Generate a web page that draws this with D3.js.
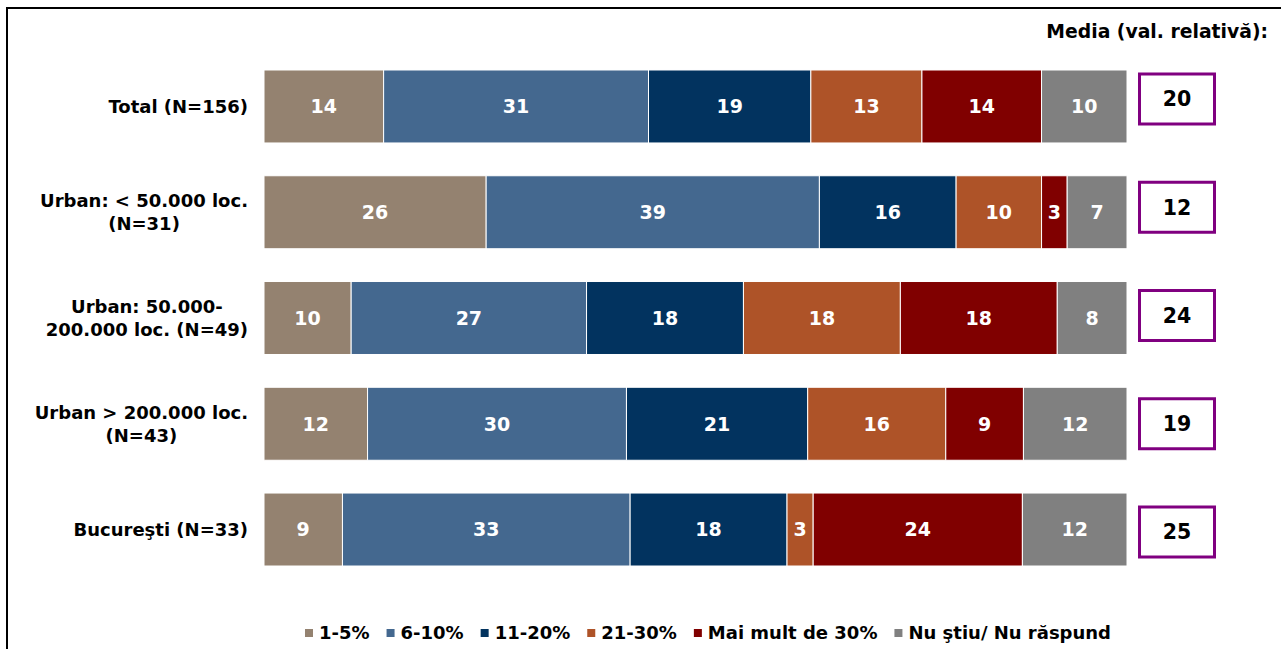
<!DOCTYPE html>
<html>
<head>
<meta charset="utf-8">
<script src="https://d3js.org/d3.v7.min.js"></script>
<style>
  body { margin: 0; background: #fff; }
  svg text { font-family: "DejaVu Sans", Verdana, sans-serif; font-weight: bold; }
</style>
</head>
<body>
<svg id="chart" width="1281" height="649"></svg>
<script>
// categories (each label may have two lines)
let categories = [
  ["Total (N=156)"],
  ["Urban: < 50.000 loc.", "(N=31)"],
  ["Urban: 50.000-", "200.000 loc. (N=49)"],
  ["Urban > 200.000 loc.", "(N=43)"],
  ["Bucureşti (N=33)"]
];

let seriesNames = ["1-5%", "6-10%", "11-20%", "21-30%", "Mai mult de 30%", "Nu ştiu/ Nu răspund"];
let seriesColors = ["#948270", "#44688F", "#02335F", "#AE5328", "#800000", "#808080"];

// values per series, one per category
let s1to5 = [14, 26, 10, 12, 9];
let s6to10 = [31, 39, 27, 30, 33];
let s11to20 = [19, 16, 18, 21, 18];
let s21to30 = [13, 10, 18, 16, 3];
let sOver30 = [14, 3, 18, 9, 24];
let sDontKnow = [10, 7, 8, 12, 12];

// mean (relative value) per category
let means = [20, 12, 24, 19, 25];

let titleText = "Media (val. relativă):";

// build rows for the stack
let seriesValues = [s1to5, s6to10, s11to20, s21to30, sOver30, sDontKnow];
let rows = categories.map(function(c, i) {
  let row = { id: i };
  seriesNames.forEach(function(s, j) {
    row[s] = seriesValues[j][i];
  });
  return row;
});

let svg = d3.select("#chart");

// frame
svg
  .append("rect")
  .attr("x", 7)
  .attr("y", 8)
  .attr("width", 1400)
  .attr("height", 800)
  .attr("fill", "none")
  .attr("stroke", "#000")
  .attr("stroke-width", 2);

let stack = d3
  .stack()
  .keys(seriesNames)
  .offset(d3.stackOffsetExpand);
let stacked = stack(rows);

let xScale = d3
  .scaleLinear()
  .domain([0, 1])
  .range([264, 1127]);

let yScale = d3
  .scaleBand()
  .domain(d3.range(categories.length))
  .range([53.6, 582.4])
  .paddingInner(0.31)
  .paddingOuter(0.155);

let colorScale = d3
  .scaleOrdinal()
  .domain(seriesNames)
  .range(seriesColors);

// bars
let layers = svg
  .append("g")
  .selectAll("g")
  .data(stacked)
  .join("g")
  .attr("fill", d => colorScale(d.key));

layers
  .selectAll("rect")
  .data(d => d)
  .join("rect")
  .attr("x", d => xScale(d[0]))
  .attr("y", d => yScale(d.data.id))
  .attr("width", d => xScale(d[1]) - xScale(d[0]))
  .attr("height", yScale.bandwidth())
  .attr("stroke", "#fff")
  .attr("stroke-width", 1);

// value labels
layers
  .selectAll("text")
  .data(function(d) {
    return d.map(p => ({ p: p, key: d.key }));
  })
  .join("text")
  .attr("x", d => (xScale(d.p[0]) + xScale(d.p[1])) / 2)
  .attr("y", d => yScale(d.p.data.id) + yScale.bandwidth() / 2)
  .attr("dy", "0.36em")
  .attr("text-anchor", "middle")
  .attr("fill", "#fff")
  .style("font-size", "19px")
  .text(d => d.p.data[d.key]);

// category labels: block right-aligned, lines centred inside it
let labelRight = 248;
let lineHeight = 23;
categories.forEach(function(lines, i) {
  let g = svg.append("g");
  let texts = lines.map(function(line, k) {
    return g
      .append("text")
      .attr("y", yScale(i) + yScale.bandwidth() / 2 + (k - (lines.length - 1) / 2) * lineHeight)
      .attr("dy", "0.36em")
      .attr("text-anchor", "middle")
      .attr("fill", "#000")
      .style("font-size", "18px")
      .text(line);
  });
  let maxW = d3.max(texts, t => t.node().getComputedTextLength());
  texts.forEach(t => t.attr("x", labelRight - maxW / 2));
});

// mean title
svg
  .append("text")
  .attr("x", 1268)
  .attr("y", 31)
  .attr("dy", "0.36em")
  .attr("text-anchor", "end")
  .attr("fill", "#000")
  .style("font-size", "18.8px")
  .text(titleText);

// mean boxes
let boxScale = d3
  .scalePoint()
  .domain(d3.range(categories.length))
  .range([99, 532]);

let boxes = svg
  .append("g")
  .selectAll("g")
  .data(means)
  .join("g")
  .attr("transform", (d, i) => "translate(1177," + boxScale(i) + ")");

boxes
  .append("rect")
  .attr("x", -37.5)
  .attr("y", -25)
  .attr("width", 75)
  .attr("height", 50)
  .attr("fill", "#fff")
  .attr("stroke", "#800080")
  .attr("stroke-width", 3);

boxes
  .append("text")
  .attr("text-anchor", "middle")
  .attr("dy", "0.36em")
  .attr("fill", "#000")
  .style("font-size", "20.5px")
  .text(d => d);

// legend
let legend = svg.append("g");
let legendX = 0;
let legendY = 633;
seriesNames.forEach(function(name) {
  let item = legend.append("g").attr("transform", "translate(" + legendX + ",0)");
  item
    .append("rect")
    .attr("x", 0)
    .attr("y", legendY - 4)
    .attr("width", 8)
    .attr("height", 8)
    .attr("fill", colorScale(name));
  let t = item
    .append("text")
    .attr("x", 14)
    .attr("y", legendY)
    .attr("dy", "0.36em")
    .attr("fill", "#000")
    .style("font-size", "18px")
    .text(name);
  legendX += 14 + t.node().getComputedTextLength() + 17;
});
let legendWidth = legendX - 17;
legend.attr("transform", "translate(" + (708 - legendWidth / 2) + ",0)");
</script>
</body>
</html>
